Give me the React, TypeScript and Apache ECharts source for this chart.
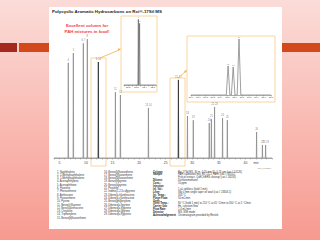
import React, { useEffect, useRef } from "react";
import * as echarts from "echarts";

const titleText = "Polycyclic Aromatic Hydrocarbons on Rxi®-17Sil MS";
const noteLines = ["Excellent column for", "PAH mixtures in food!"];

// main chromatogram (retention time in min, relative height)
const peakTimes = [6.69, 7.64, 9.52, 10.27, 15.55, 16.49, 21.76, 29.1, 30.2, 33.2, 33.6, 34.2, 35.7, 36.6, 42.1, 43.2, 43.8];
const peakHeights = [78, 86, 94, 97.5, 54, 51.6, 41, 34.4, 31, 28.7, 32, 41.8, 32.8, 31, 21.3, 10.7, 10.7];
const peakLabels = ["4", "5", "6,7", "8", "11", "12", "13,14", "18", "19", "20", "21", "22,23", "24", "25", "26", "27", "28,29"];
const focusTimes = [12.34, 27.4];
const focusHeights = [78.7, 64];
const focusLabels = ["9,10", "15-17"];
const timeTicks = [5, 10, 15, 20, 25, 30, 35, 40];

// inset 1
const inset1Times = [12.325, 12.34];
const inset1Heights = [98, 92];
const inset1Labels = ["9", "10"];
const inset1Ticks = [12.2, 12.3, 12.4, 12.5];

// inset 2
const inset2Times = [27.51, 27.58, 27.66];
const inset2Heights = [51.8, 50, 100];
const inset2Labels = ["15", "16", "17"];

const compoundsA = [
  "1. Naphthalene", "2. 2-Methylnaphthalene", "3. 1-Methylnaphthalene", "4. Acenaphthylene",
  "5. Acenaphthene", "6. Fluorene", "7. Phenanthrene", "8. Anthracene", "9. Fluoranthene",
  "10. Pyrene", "11. Benzo[c]fluorene", "12. Benz[a]anthracene", "13. Chrysene",
  "14. Triphenylene", "15. Benzo[b]fluoranthene",
];
const compoundsB = [
  "16. Benzo[k]fluoranthene", "17. Benzo[j]fluoranthene", "18. Benzo[a]fluoranthene",
  "19. Benzo[e]pyrene", "20. Benzo[a]pyrene", "21. Perylene", "22. Indeno[1,2,3-cd]pyrene",
  "23. Dibenz[a,h]anthracene", "24. Dibenz[a,c]anthracene", "25. Benzo[ghi]perylene",
  "26. Dibenzo[a,l]pyrene", "27. Dibenzo[a,e]pyrene", "28. Dibenzo[a,i]pyrene", "29. Dibenzo[a,h]pyrene",
];
const condLabels = [
  "Column", "Sample", "", "Diluent:", "Conc.:", "Injection", "Inj. Vol.:", "Liner:",
  "Inj. Temp.:", "Purge Flow:", "Oven", "Oven Temp.:", "Carrier Gas", "Flow Rate:",
  "Detector", "Acknowledgement",
];
const condValues = [
  "Rxi-17Sil MS, 30 m, 0.25 mm ID, 0.25 µm (cat.# 14126)",
  "PAH calibration mix, EU 15+1 PAHs (cat.# 31011)",
  "Fish oil extract, QuEChERS cleanup (cat.# 26230)",
  "Dichloromethane",
  "10 ppm",
  "",
  "1 µL splitless (hold 1 min)",
  "Sky 4 mm single taper w/ wool (cat.# 23303.1)",
  "300 °C",
  "50 mL/min",
  "",
  "80 °C (hold 1 min) to 210 °C at 45 °C/min to 350 °C at 5 °C/min",
  "He, constant flow",
  "1.4 mL/min",
  "MS, SIM mode",
  "Chromatogram provided by Restek",
];

function peaks(times: number[], heights: number[], hw: number, start?: number, end?: number) {
  const pts: number[][] = [];
  if (start !== undefined) pts.push([start, 0]);
  times.forEach((t, i) => {
    pts.push([t - hw, 0], [t, heights[i]], [t + hw, 0]);
  });
  if (end !== undefined) pts.push([end, 0]);
  return pts;
}

const FONT = "Liberation Sans, Arial, sans-serif";
const ORANGE = "#f7c98a";

export default function App() {
  const ref = useRef<HTMLDivElement>(null);
  useEffect(() => {
    if (!ref.current) return;
    const chart = echarts.init(ref.current, null, { renderer: "svg" });

    const labelSeries = (xi: number, times: number[], heights: number[], labels: string[], fs: number) => ({
      type: "scatter",
      xAxisIndex: xi,
      yAxisIndex: xi,
      symbolSize: 0.01,
      silent: true,
      z: 5,
      data: times.map((t, i) => [t, heights[i], labels[i]]),
      label: {
        show: true,
        position: "top",
        distance: 1,
        fontSize: fs,
        color: "#555",
        fontFamily: FONT,
        formatter: (p: any) => p.value[2],
      },
    });

    const graphics: any[] = [
      {
        type: "rect", z: -100, shape: { x: 0, y: 0, width: 320, height: 240 },
        style: {
          fill: new echarts.graphic.LinearGradient(0, 0, 0, 1, [
            { offset: 0, color: "#fbdcd8" },
            { offset: 1, color: "#f79a90" },
          ]),
        },
      },
      { type: "rect", z: -99, shape: { x: 0, y: 43, width: 17, height: 9 }, style: { fill: "#a3291d" } },
      { type: "rect", z: -99, shape: { x: 19, y: 43, width: 301, height: 9 }, style: { fill: "#d4491b" } },
      { type: "rect", z: -98, shape: { x: 49, y: 7, width: 233, height: 222 }, style: { fill: "#ffffff" } },
      { type: "rect", z: -97, shape: { x: 121, y: 16, width: 36, height: 76 }, style: { fill: "#fff", stroke: ORANGE, lineWidth: 0.8 } },
      { type: "rect", z: -97, shape: { x: 187, y: 36, width: 88, height: 66 }, style: { fill: "#fff", stroke: ORANGE, lineWidth: 0.8 } },
      { type: "rect", z: -97, shape: { x: 91, y: 58, width: 15, height: 108 }, style: { fill: "none", stroke: ORANGE, lineWidth: 0.8 } },
      { type: "rect", z: -97, shape: { x: 170, y: 78, width: 15, height: 88 }, style: { fill: "none", stroke: ORANGE, lineWidth: 0.8 } },
      { type: "line", z: 10, shape: { x1: 100, y1: 58, x2: 119, y2: 50 }, style: { stroke: "#f3b04a", lineWidth: 0.8 } },
      { type: "polygon", z: 10, shape: { points: [[121, 48.8], [118.7, 50.9], [117.7, 48.6]] }, style: { fill: "#f3b04a" } },
      { type: "line", z: 10, shape: { x1: 178, y1: 78, x2: 185.5, y2: 71.5 }, style: { stroke: "#f3b04a", lineWidth: 0.8 } },
      { type: "polygon", z: 10, shape: { points: [[187, 70], [185.6, 72.9], [184.0, 71.1]] }, style: { fill: "#f3b04a" } },
      {
        type: "text", z: 10, x: 52, y: 11,
        style: { text: titleText, fontSize: 4.4, fontWeight: "bold", fill: "#222", fontFamily: FONT, verticalAlign: "middle" },
      },
      ...noteLines.map((t, i) => ({
        type: "text", z: 10, x: 87, y: 25 + i * 6,
        style: { text: t, fontSize: 4.3, fontWeight: "bold", fill: "#ec3a52", fontFamily: FONT, align: "center", verticalAlign: "middle" },
      })),
      {
        type: "text", z: 10, x: 256, y: 163,
        style: { text: "min", fontSize: 3.2, fill: "#444", fontFamily: FONT, align: "center", verticalAlign: "middle" },
      },
      {
        type: "text", z: 10, x: 271, y: 168,
        style: { text: "GC_FF1089", fontSize: 2.4, fill: "#777", fontFamily: FONT, align: "right", verticalAlign: "middle" },
      },
      ...compoundsA.map((t, i) => ({
        type: "text", z: 10, x: 57, y: 172 + i * 3.3,
        style: { text: t, fontSize: 2.6, fill: "#333", fontFamily: FONT, verticalAlign: "middle" },
      })),
      ...compoundsB.map((t, i) => ({
        type: "text", z: 10, x: 104, y: 172 + i * 3.3,
        style: { text: t, fontSize: 2.6, fill: "#333", fontFamily: FONT, verticalAlign: "middle" },
      })),
      ...condLabels.map((t, i) => ({
        type: "text", z: 10, x: 153, y: 172 + i * 2.9,
        style: { text: t, fontSize: 2.6, fontWeight: "bold", fill: "#222", fontFamily: FONT, verticalAlign: "middle" },
      })),
      ...condValues.map((t, i) => ({
        type: "text", z: 10, x: 178, y: 172 + i * 2.9,
        style: { text: t, fontSize: 2.6, fill: "#333", fontFamily: FONT, verticalAlign: "middle" },
      })),
    ];

    const axisBase = {
      type: "value",
      splitLine: { show: false },
      axisLine: { lineStyle: { color: "#888", width: 0.7 } },
      axisTick: { length: 1.5, lineStyle: { color: "#888", width: 0.5 } },
    };

    chart.setOption({
      animation: false,
      textStyle: { fontFamily: FONT },
      grid: [
        { left: 54, width: 218, top: 36, height: 122, outerBoundsMode: "none" },
        { left: 124, width: 32, top: 18, height: 67, outerBoundsMode: "none" },
        { left: 191, width: 80, top: 39, height: 56, outerBoundsMode: "none" },
      ],
      xAxis: [
        {
          ...axisBase, gridIndex: 0, min: 4, max: 45, interval: 1,
          axisLabel: { customValues: timeTicks, fontSize: 3.4, color: "#444", margin: 3 },
        },
        {
          ...axisBase, gridIndex: 1, min: 12.15, max: 12.54, interval: 0.05,
          axisLabel: { customValues: inset1Ticks, fontSize: 2.4, color: "#444", margin: 1.5, formatter: (v: number) => v.toFixed(1) },
        },
        {
          ...axisBase, gridIndex: 2, min: 27, max: 28.1, interval: 0.1,
          axisLabel: { interval: 0, fontSize: 2.3, color: "#444", margin: 1.5, formatter: (v: number) => v.toFixed(1) },
        },
      ],
      yAxis: [0, 1, 2].map((g) => ({ type: "value", gridIndex: g, min: 0, max: 100, show: false })),
      series: [
        {
          type: "line", xAxisIndex: 0, yAxisIndex: 0, symbol: "none", silent: true,
          lineStyle: { color: "#8c8c8c", width: 0.8 },
          data: peaks(peakTimes, peakHeights, 0.05, 4, 45),
        },
        ...focusTimes.map((t, i) => ({
          type: "line", xAxisIndex: 0, yAxisIndex: 0, symbol: "none", silent: true,
          lineStyle: { color: "#333", width: 0.9 },
          data: peaks([t], [focusHeights[i]], 0.05),
        })),
        labelSeries(0, peakTimes, peakHeights, peakLabels, 2.6),
        labelSeries(0, focusTimes, focusHeights, focusLabels, 2.6),
        {
          type: "line", xAxisIndex: 1, yAxisIndex: 1, symbol: "none", silent: true,
          lineStyle: { color: "#666", width: 0.7 },
          data: peaks(inset1Times, inset1Heights, 0.005, 12.15, 12.54),
        },
        labelSeries(1, inset1Times, inset1Heights, inset1Labels, 2.2),
        {
          type: "line", xAxisIndex: 2, yAxisIndex: 2, symbol: "none", silent: true,
          lineStyle: { color: "#777", width: 0.7 },
          data: peaks(inset2Times, inset2Heights, 0.025, 27, 28.1),
        },
        labelSeries(2, inset2Times, inset2Heights, inset2Labels, 2.2),
      ],
      graphic: { elements: graphics },
    });
    return () => chart.dispose();
  }, []);
  return <div ref={ref} style={{ width: 320, height: 240, position: "absolute", left: 0, top: 0 }} />;
}
